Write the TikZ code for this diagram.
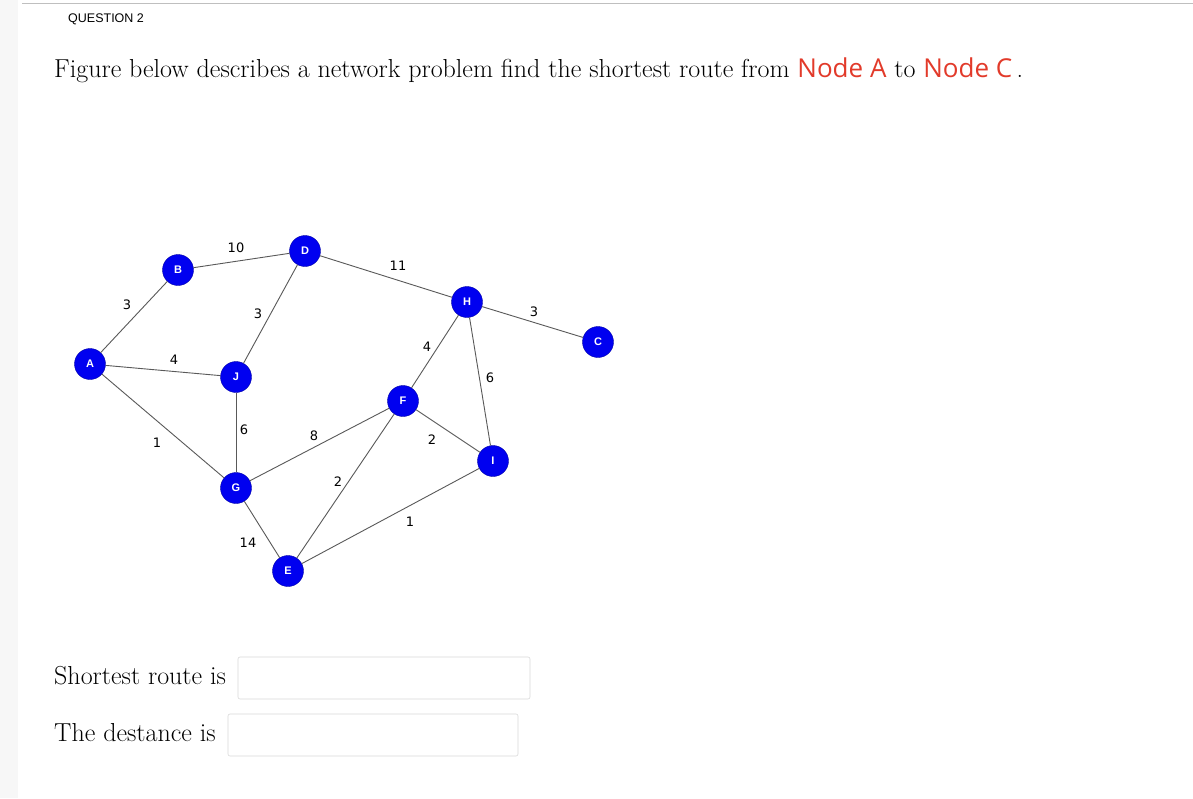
\documentclass[tikz,border=0pt]{standalone}
\usepackage{fontspec}
\setmainfont{Latin Modern Roman}
\newfontfamily\lsans{Liberation Sans}
\newfontfamily\osans{Open Sans}
\newfontfamily\dsans{DejaVu Sans}
\definecolor{nodeblue}{RGB}{0,0,240}
\definecolor{qred}{RGB}{226,58,42}
\begin{document}
\begin{tikzpicture}[x=1pt,y=-1pt,
  vtx/.style={circle,fill=nodeblue,draw=nodeblue!70!black,minimum size=31pt,inner sep=0pt,text=white,font=\lsans\bfseries\fontsize{11}{11}\selectfont},
  edge/.style={draw=black!65,line width=0.9pt},
  wt/.style={font=\dsans\fontsize{13}{13}\selectfont,inner sep=0pt},
  txt/.style={font=\fontsize{26}{26}\selectfont,inner sep=0pt,anchor=west},
  ansbox/.style={draw=black!15,rounded corners=2pt,line width=0.6pt}]
\useasboundingbox (0,0) rectangle (1193,798);
\fill[white] (0,0) rectangle (1193,798);
\fill[black!3] (0,0) rectangle (18,798);
\draw[black!25,line width=1pt] (22,3) -- (1193,3);
\node[anchor=west,inner sep=0pt,font=\lsans\fontsize{12.5}{12.5}\selectfont] (q) at (68,19) {QUESTION 2};
\node[txt] (t) at (54,70) {Figure below describes a network problem find the shortest route from {\osans\color{qred}Node A} to {\osans\color{qred}Node C}\,.};
\node (A) [vtx] at (90,364) {A};
\node (B) [vtx] at (178,270) {B};
\node (D) [vtx] at (305,251) {D};
\node (J) [vtx] at (236,377) {J};
\node (H) [vtx] at (467,302) {H};
\node (C) [vtx] at (598,342) {C};
\node (F) [vtx] at (403,401) {F};
\node (G) [vtx] at (236,488) {G};
\node (I) [vtx] at (493,461) {I};
\node (E) [vtx] at (288,571) {E};
\foreach \u/\v in {A/B,B/D,D/H,H/C,A/J,D/J,A/G,J/G,G/F,G/E,F/E,F/I,H/F,H/I,I/E}
  \draw[edge] (\u) -- (\v);
\node[wt] (w1) at (236,248) {10};
\node[wt] (w2) at (398,266) {11};
\node[wt] (w3) at (127,305) {3};
\node[wt] (w4) at (258,314) {3};
\node[wt] (w5) at (534,312) {3};
\node[wt] (w6) at (174,360) {4};
\node[wt] (w7) at (427,347) {4};
\node[wt] (w8) at (490,378) {6};
\node[wt] (w9) at (157,443) {1};
\node[wt] (w10) at (244,430) {6};
\node[wt] (w11) at (314,436) {8};
\node[wt] (w12) at (432,440) {2};
\node[wt] (w13) at (338,482) {2};
\node[wt] (w14) at (410,522) {1};
\node[wt] (w15) at (248,543) {14};
\node[txt] (s1) at (54,676) {Shortest route is};
\node[txt] (s2) at (54,733) {The destance is};
\draw[ansbox] (238,657) rectangle (530,699);
\draw[ansbox] (228,714) rectangle (518,756);
\end{tikzpicture}
\end{document}
